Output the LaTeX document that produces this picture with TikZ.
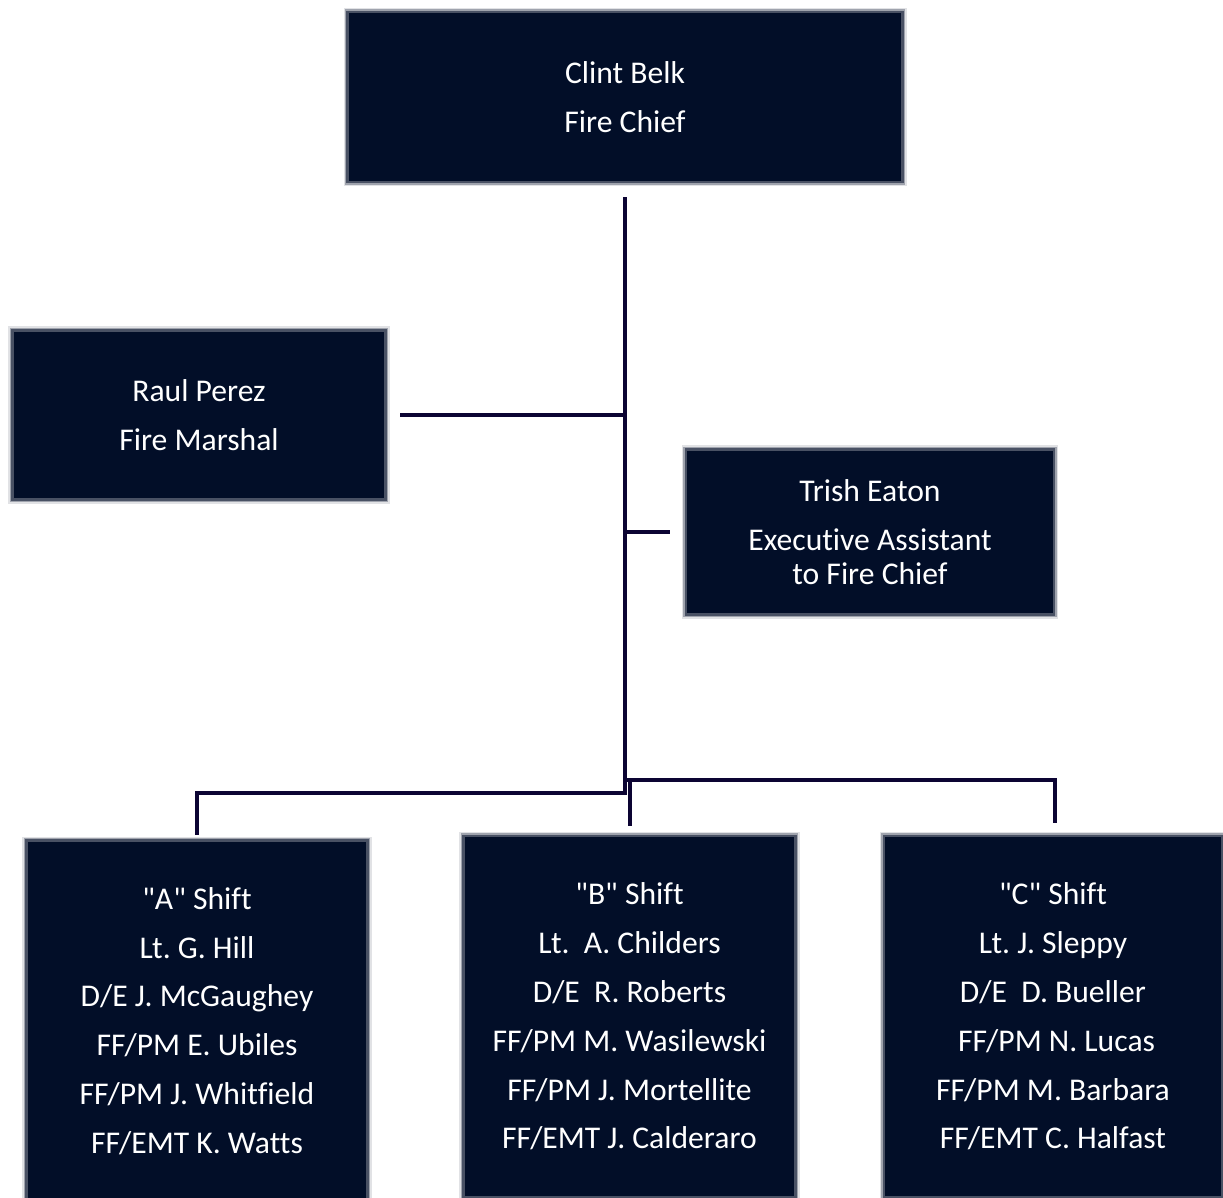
\documentclass[tikz,border=0pt]{standalone}
\usepackage{fontspec}
\setmainfont{Carlito}[Ligatures={NoCommon}]
\usepackage{tikz}
\usetikzlibrary{positioning}
\definecolor{FireNavy}{HTML}{020E28}
\definecolor{FireInk}{HTML}{0C0433}
\frenchspacing

\begin{document}
\begin{tikzpicture}[x=0.02cm, y=-0.02cm,
  unit/.style={fill=FireNavy, draw=FireNavy!72, line width=1.5pt, text=white,
               preaction={draw=FireNavy!12, line width=4.6pt},
               preaction={draw=FireNavy!38, line width=3pt},
               inner sep=0pt, align=center, font=\fontsize{18}{27.8}\selectfont},
  link/.style={draw=FireInk, line width=2.8pt}]
  \useasboundingbox (0,0) rectangle (1223,1197);

  % head of the department and staff
  \node[unit, minimum width=11.1cm, minimum height=3.4cm] (chief) at (625,97)
    {Clint Belk\\Fire Chief};
  \node[unit, minimum width=7.46cm, minimum height=3.38cm] (marshal) at (199,415)
    {Raul Perez\\Fire Marshal};
  \node[unit, minimum width=7.36cm, minimum height=3.3cm] (assistant) at (870,532)
    {Trish Eaton\\Executive Assistant\\[-8.5pt]to Fire Chief};

  % the three shifts
  \foreach \name/\x/\y/\w/\lbl in {%
      shiftA/197/1021/6.82/{\textquotedbl A\textquotedbl{} Shift\\Lt. G. Hill\\D/E J. McGaughey\\FF/PM E. Ubiles\\FF/PM J. Whitfield\\FF/EMT K. Watts},
      shiftB/629.5/1016.5/6.64/{\textquotedbl B\textquotedbl{} Shift\\Lt.\ \ A. Childers\\D/E\ \ R. Roberts\\FF/PM M. Wasilewski\\FF/PM J. Mortellite\\FF/EMT J. Calderaro},
      shiftC/1053/1016.5/6.76/{\textquotedbl C\textquotedbl{} Shift\\Lt. J. Sleppy\\D/E\ \ D. Bueller\\\ FF/PM N. Lucas\\FF/PM M. Barbara\\FF/EMT C. Halfast}}{
    \node[unit, minimum width=\w cm, minimum height=7.22cm] (\name) at (\x,\y) {\lbl};
  }

  % connector ends
  \coordinate (trunkTop) at (625,197);
  \coordinate (trunkBot) at (625,795);
  \coordinate (marshalTap) at (625,415);
  \coordinate (marshalEnd) at (400,415);
  \coordinate (assistTap) at (627,532);
  \coordinate (assistEnd) at (670,532);
  \coordinate (leftBar) at (625,793);
  \coordinate (rightBar) at (627,780);
  \coordinate (dropA) at (197,835);
  \coordinate (dropB) at (630,826);
  \coordinate (dropC) at (1055,823);

  \draw[link] (trunkTop) -- (trunkBot);
  \draw[link] (marshalTap) -- (marshalEnd);
  \draw[link] (assistTap) -- (assistEnd);
  \draw[link] (leftBar) -| (dropA);
  \draw[link] (rightBar) -| (dropC);
  \draw[link] (rightBar -| dropB) -- (dropB);
\end{tikzpicture}
\end{document}
